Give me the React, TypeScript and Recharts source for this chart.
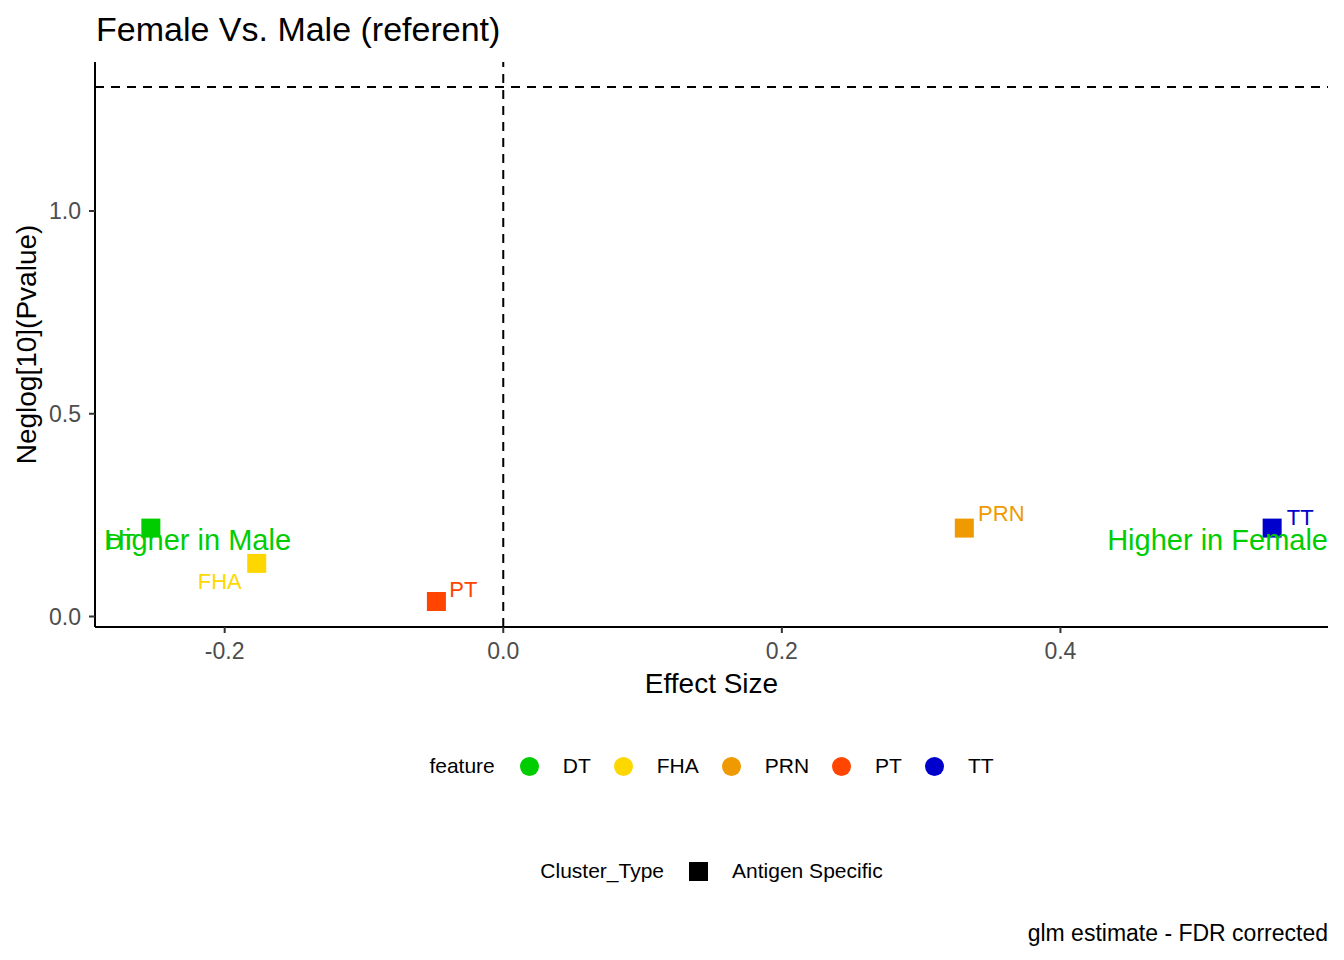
import { ScatterChart, Scatter, XAxis, YAxis, ReferenceLine } from "recharts";

const FEATURES = ["DT", "FHA", "PRN", "PT", "TT"];
const EFFECT_SIZE = [-0.253, -0.177, 0.331, -0.048, 0.552];
const NEGLOG_P = [0.218, 0.131, 0.218, 0.037, 0.218];
const FEATURE_COLORS = ["#00CD00", "#FFD700", "#EE9A00", "#FF4500", "#0000CD"];

const X_TICKS = [-0.2, 0, 0.2, 0.4];
const Y_TICKS = [0, 0.5, 1.0];
const X_DOMAIN = [-0.2931, 0.5921];
const Y_DOMAIN = [-0.0259, 1.3675];
const P_CUTOFF = 1.306; // significance line

const ANNOTATIONS = ["Higher in Male", "Higher in Female"];
const ANNOTATION_X = [-0.2866, 0.5921];
const ANNOTATION_Y = [0.189, 0.189];

const FONT = "'Liberation Sans', Arial, sans-serif";

// where the repelled text sits relative to its square, in px
const LABEL_NUDGE: Record<string, [number, number]> = {
  DT: [-30, 13],
  FHA: [-37, 18],
  PRN: [37, -15],
  PT: [27, -12],
  TT: [28, -11],
};

const pointData = FEATURES.map((name, i) => [
  { x: EFFECT_SIZE[i], y: NEGLOG_P[i], name },
]);

const annotationData = ANNOTATIONS.map((text, i) => ({
  x: ANNOTATION_X[i],
  y: ANNOTATION_Y[i],
  text,
}));

function SquareWithLabel(props: any) {
  const { cx, cy, fill, payload } = props;
  const [dx, dy] = LABEL_NUDGE[payload.name] ?? [0, 0];
  return (
    <g>
      <rect x={cx - 9.5} y={cy - 9.5} width={19} height={19} fill={fill} />
      <text
        x={cx + dx}
        y={cy + dy}
        dy="0.36em"
        textAnchor="middle"
        fill={fill}
        fontSize={22}
        fontFamily={FONT}
      >
        {payload.name}
      </text>
    </g>
  );
}

function AnnotationText(props: any) {
  const { cx, cy, payload } = props;
  return (
    <text
      x={cx}
      y={cy}
      dy="0.36em"
      textAnchor={payload.x < 0 ? "start" : "end"}
      fill="#00CD00"
      fontSize={29}
      fontFamily={FONT}
    >
      {payload.text}
    </text>
  );
}

function YTitle({ viewBox }: any) {
  const cy = viewBox.y + viewBox.height / 2;
  const bx = 36;
  return (
    <text
      x={bx}
      y={cy}
      transform={`rotate(-90 ${bx} ${cy})`}
      textAnchor="middle"
      fontSize={28}
      fontFamily={FONT}
      fill="#000"
    >
      Neglog[10](Pvalue)
    </text>
  );
}

function XTitle({ viewBox }: any) {
  const cx = viewBox.x + viewBox.width / 2;
  return (
    <text x={cx} y={693} textAnchor="middle" fontSize={28} fontFamily={FONT} fill="#000">
      Effect Size
    </text>
  );
}

const legendRow = {
  position: "absolute" as const,
  left: 95,
  width: 1233,
  height: 30,
  display: "flex",
  alignItems: "center",
  justifyContent: "center",
  fontFamily: FONT,
  fontSize: 21,
  color: "#000",
};

export default function App() {
  return (
    <div style={{ position: "absolute", left: 0, top: 0, width: 1344, height: 960, background: "#fff" }}>
      <ScatterChart
        width={1344}
        height={960}
        margin={{ top: 62, right: 16, bottom: 303, left: 35 }}
      >
        <XAxis
          type="number"
          dataKey="x"
          domain={X_DOMAIN}
          ticks={X_TICKS}
          allowDataOverflow
          height={30}
          tickFormatter={(v) => Number(v).toFixed(1)}
          tick={{ fill: "#4D4D4D", fontSize: 23, fontFamily: FONT }}
          tickSize={6}
          tickMargin={10}
          axisLine={{ stroke: "#000", strokeWidth: 2 }}
          tickLine={{ stroke: "#333", strokeWidth: 2 }}
          label={<XTitle />}
        />
        <YAxis
          type="number"
          dataKey="y"
          domain={Y_DOMAIN}
          ticks={Y_TICKS}
          allowDataOverflow
          width={60}
          tickFormatter={(v) => Number(v).toFixed(1)}
          tick={{ fill: "#4D4D4D", fontSize: 23, fontFamily: FONT }}
          tickSize={6}
          tickMargin={8}
          axisLine={{ stroke: "#000", strokeWidth: 2 }}
          tickLine={{ stroke: "#333", strokeWidth: 2 }}
          label={<YTitle />}
        />
        <ReferenceLine y={P_CUTOFF} stroke="#000" strokeWidth={2} strokeDasharray="9 7" />
        <ReferenceLine x={0} stroke="#000" strokeWidth={2} strokeDasharray="9 7" />
        {FEATURES.map((name, i) => (
          <Scatter
            key={name}
            name={name}
            data={pointData[i]}
            fill={FEATURE_COLORS[i]}
            shape={SquareWithLabel}
            isAnimationActive={false}
          />
        ))}
        <Scatter
          name="annotations"
          data={annotationData}
          shape={AnnotationText}
          legendType="none"
          isAnimationActive={false}
        />
      </ScatterChart>

      <svg
        width={1344}
        height={960}
        style={{ position: "absolute", left: 0, top: 0, pointerEvents: "none" }}
      >
        <text x={96} y={41} fontSize={34} fontFamily={FONT} fill="#000">
          Female Vs. Male (referent)
        </text>
        <text x={1328} y={941} textAnchor="end" fontSize={23} fontFamily={FONT} fill="#000">
          glm estimate - FDR corrected
        </text>
      </svg>

      <div style={{ ...legendRow, top: 751 }}>
        <span style={{ marginRight: 25 }}>feature</span>
        {FEATURES.map((name, i) => (
          <span key={name} style={{ display: "flex", alignItems: "center" }}>
            <span
              style={{
                width: 19,
                height: 19,
                borderRadius: "50%",
                background: FEATURE_COLORS[i],
                marginRight: 24,
              }}
            />
            <span style={{ marginRight: i < FEATURES.length - 1 ? 23 : 0 }}>{name}</span>
          </span>
        ))}
      </div>

      <div style={{ ...legendRow, top: 856 }}>
        <span style={{ marginRight: 25 }}>Cluster_Type</span>
        <span style={{ width: 19, height: 19, background: "#000", marginRight: 24 }} />
        <span>Antigen Specific</span>
      </div>
    </div>
  );
}
